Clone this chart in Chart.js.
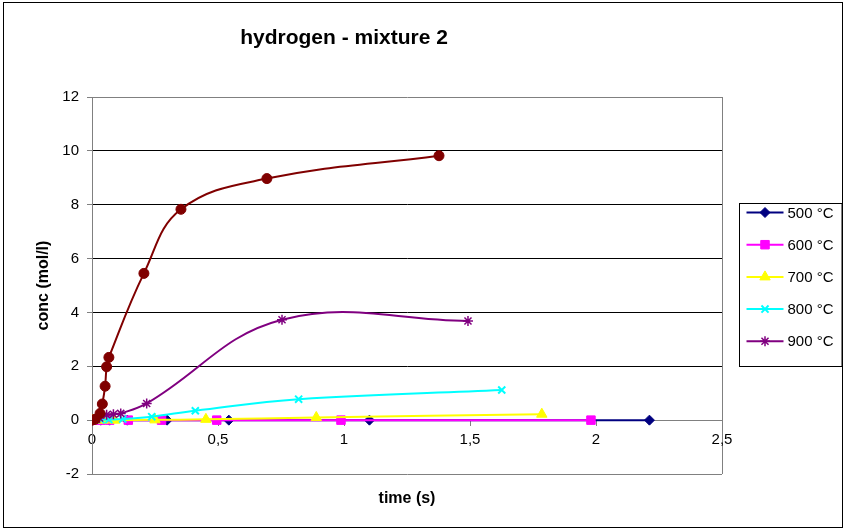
<!DOCTYPE html>
<html><head><meta charset="utf-8">
<script src="https://cdn.jsdelivr.net/npm/chart.js@4.4.0/dist/chart.umd.min.js"></script>
<style>html,body{margin:0;padding:0;background:#fff}#wrap{width:845px;height:530px;position:relative}</style>
</head><body><div id="wrap"><canvas id="c" width="845" height="530"></canvas></div>
<script>
const chartTitle = 'hydrogen - mixture 2';
const xAxisTitle = 'time (s)';
const yAxisTitle = 'conc (mol/l)';
const seriesNames = ['500 °C', '600 °C', '700 °C', '800 °C', '900 °C', ''];
const xTickLabels = ['0', '0,5', '1', '1,5', '2', '2,5'];
const yTickLabels = ['-2', '0', '2', '4', '6', '8', '10', '12'];

const t500 = [0, 0.035, 0.07, 0.14, 0.298, 0.543, 1.101, 2.212];
const c500 = [0, 0, 0, 0, 0, 0, 0, 0];
const t600 = [0, 0.035, 0.07, 0.144, 0.276, 0.495, 0.988, 1.98];
const c600 = [0, 0, 0, 0, 0, 0, 0, 0];
const t700 = [0, 0.045, 0.09, 0.25, 0.452, 0.89, 1.785];
const c700 = [0, 0, 0, 0.01, 0.03, 0.1, 0.22];
const t800 = [0, 0.035, 0.067, 0.122, 0.237, 0.41, 0.82, 1.626];
const c800 = [0, 0.01, 0.02, 0.04, 0.13, 0.35, 0.78, 1.12];
const t900 = [0, 0.03, 0.058, 0.085, 0.114, 0.217, 0.754, 1.492];
const c900 = [0, 0.08, 0.2, 0.22, 0.25, 0.62, 3.73, 3.68];
const tRed = [0, 0.012, 0.032, 0.041, 0.052, 0.058, 0.067, 0.206, 0.353, 0.694, 1.377];
const cRed = [0, 0.03, 0.25, 0.6, 1.26, 1.98, 2.33, 5.45, 7.83, 8.97, 9.82];

const FONT = '"Liberation Sans", Arial, sans-serif';
const pts = (t, c) => t.map((v, i) => ({x: v, y: c[i]}));

const styles = [
  {color: '#000080', style: 'rectRot', r: 5, bw: 1},
  {color: '#FF00FF', style: 'rect', r: 6, bw: 1},
  {color: '#FFFF00', style: 'triangle', r: 6, bw: 1},
  {color: '#00FFFF', style: 'crossRot', r: 5, bw: 2},
  {color: '#800080', style: 'star', r: 5, bw: 1.5},
  {color: '#800000', style: 'circle', r: 5, bw: 1}
];
const seriesData = [pts(t500, c500), pts(t600, c600), pts(t700, c700), pts(t800, c800), pts(t900, c900), pts(tRed, cRed)];

const datasets = seriesData.map((d, i) => ({
  label: seriesNames[i],
  data: d,
  borderColor: styles[i].color,
  backgroundColor: styles[i].color,
  pointBackgroundColor: styles[i].color,
  pointBorderColor: styles[i].color,
  pointStyle: styles[i].style,
  pointRadius: styles[i].r,
  pointBorderWidth: styles[i].bw,
  borderWidth: 2,
  tension: 0.4,
  fill: false,
  order: 6 - i
}));

const framePlugin = {
  id: 'frame',
  beforeDraw(chart) {
    const ctx = chart.ctx;
    ctx.save(); ctx.fillStyle = '#fff'; ctx.fillRect(0, 0, chart.width, chart.height); ctx.restore();
  },
  afterDraw(chart) {
    const ctx = chart.ctx, ca = chart.chartArea;
    ctx.save();
    ctx.strokeStyle = '#000'; ctx.lineWidth = 1;
    ctx.strokeRect(3.5, 2.5, chart.width - 6, chart.height - 5);
    // title
    ctx.fillStyle = '#000'; ctx.font = 'bold 21px ' + FONT;
    ctx.textAlign = 'center'; ctx.textBaseline = 'middle';
    ctx.fillText(chartTitle, 344, 38);
    // legend
    const lx = ca.right + 17.5, ly = 203.5, lw = chart.width - 3 - lx, lh = 163;
    ctx.strokeStyle = '#000'; ctx.strokeRect(lx, ly, lw, lh);
    ctx.font = '15px ' + FONT; ctx.textAlign = 'left';
    for (let i = 0; i < 5; i++) {
      const y = ly + 9 + i * 32.2, s = styles[i];
      ctx.strokeStyle = s.color; ctx.lineWidth = 2;
      ctx.beginPath(); ctx.moveTo(lx + 7, y); ctx.lineTo(lx + 44, y); ctx.stroke();
      ctx.fillStyle = s.color; ctx.lineWidth = s.bw;
      Chart.helpers.drawPoint(ctx, {pointStyle: s.style, radius: s.r, borderWidth: s.bw, rotation: 0}, lx + 25.5, y);
      ctx.fillStyle = '#000';
      ctx.fillText(seriesNames[i], lx + 48, y + 1);
    }
    ctx.restore();
  }
};

const gridCol = (v) => (v === 12 || v === -2 || v === 0) ? '#808080' : '#000000';

new Chart(document.getElementById('c'), {
  type: 'line',
  data: {datasets},
  options: {
    responsive: false,
    animation: false,
    devicePixelRatio: 1,
    layout: {padding: {top: 97, right: 123, left: 0, bottom: 0}},
    plugins: {legend: {display: false}, title: {display: false}, tooltip: {enabled: false}},
    scales: {
      x: {
        type: 'linear', min: 0, max: 2.5, position: {y: 0},
        ticks: {stepSize: 0.5, color: '#000', font: {family: FONT, size: 15}, padding: 6, maxRotation: 0,
          callback: (v) => xTickLabels[Math.round(v / 0.5)]},
        grid: {color: (c) => c.tick && c.tick.value === 2.5 ? '#808080' : 'rgba(0,0,0,0)', drawTicks: true, tickLength: 5, tickColor: '#808080'},
        border: {display: true, color: '#808080'}
      },
      x2: {
        type: 'linear', position: 'bottom', min: 0, max: 1,
        ticks: {display: false}, grid: {display: false, drawTicks: false}, border: {display: false},
        title: {display: true, text: xAxisTitle, color: '#000', font: {family: FONT, size: 16, weight: 'bold'}, padding: {top: 22, bottom: 22}},
        afterFit(s) { s.height = 56; }
      },
      y: {
        type: 'linear', min: -2, max: 12,
        ticks: {stepSize: 2, color: '#000', font: {family: FONT, size: 15}, padding: 8,
          callback: (v) => yTickLabels[Math.round((v + 2) / 2)]},
        grid: {color: (c) => gridCol(c.tick ? c.tick.value : 1), drawTicks: true, tickLength: 5, tickColor: '#808080'},
        border: {display: true, color: '#808080'},
        title: {display: true, text: yAxisTitle, color: '#000', font: {family: FONT, size: 16, weight: 'bold'}, padding: {top: 34, bottom: 34}},
        afterFit(s) { s.width = 92; }
      }
    }
  },
  plugins: [framePlugin]
});
</script>
</body></html>
